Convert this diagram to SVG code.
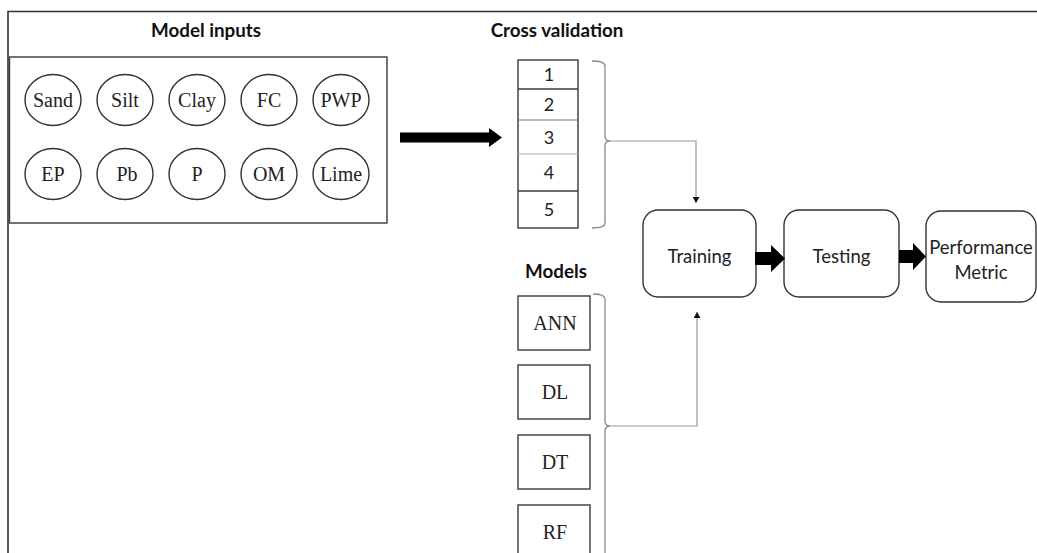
<svg xmlns="http://www.w3.org/2000/svg" width="1037" height="553" viewBox="0 0 1037 553">
  <defs>
    <style>
      .title { font-family: Lato, "Open Sans", sans-serif; font-weight: bold; font-size: 18.8px; fill: #111; text-anchor: middle; }
      .sans { font-family: Lato, "Open Sans", sans-serif; font-size: 18.5px; fill: #222; text-anchor: middle; }
      .num { font-family: Lato, "Open Sans", sans-serif; font-size: 18px; fill: #222; text-anchor: middle; }
      .serif { font-family: "Liberation Serif", "Times New Roman", serif; font-size: 20px; fill: #222; text-anchor: middle; }
      .frame { fill: none; stroke: #333; stroke-width: 1.6; }
      .box { fill: #fff; stroke: #3a3a3a; stroke-width: 1.4; }
      .node { fill: #fff; stroke: #333; stroke-width: 1.4; }
      .brace { fill: none; stroke: #8a8a8a; stroke-width: 1.3; }
      .link { fill: none; stroke: #999; stroke-width: 1.2; }
      .fat { fill: #000; }
    </style>
    <marker id="tip" viewBox="0 0 6 7" refX="6" refY="3.5" markerWidth="6" markerHeight="7" markerUnits="userSpaceOnUse" orient="auto">
      <path d="M0,0 L6,3.5 L0,7 Z" fill="#111"/>
    </marker>
  </defs>

  <rect width="1037" height="553" fill="#fff"/>

  <!-- outer frame: top and left edges -->
  <path class="frame" d="M8,553 L8,11.5 L1037,11.5"/>

  <!-- section titles -->
  <text class="title" x="206" y="37">Model inputs</text>
  <text class="title" x="557" y="37">Cross validation</text>
  <text class="title" x="556" y="278">Models</text>

  <!-- model inputs panel -->
  <g id="inputs">
    <rect class="box" x="9.5" y="57" width="377.5" height="166"/>
    <g id="in-sand"><ellipse class="node" cx="53" cy="100" rx="28" ry="25.5"/><text class="serif" x="53" y="107">Sand</text></g>
    <g id="in-silt"><ellipse class="node" cx="125" cy="100" rx="28" ry="25.5"/><text class="serif" x="125" y="107">Silt</text></g>
    <g id="in-clay"><ellipse class="node" cx="197" cy="100" rx="28" ry="25.5"/><text class="serif" x="197" y="107">Clay</text></g>
    <g id="in-fc"><ellipse class="node" cx="269" cy="100" rx="28" ry="25.5"/><text class="serif" x="269" y="107">FC</text></g>
    <g id="in-pwp"><ellipse class="node" cx="341" cy="100" rx="28" ry="25.5"/><text class="serif" x="341" y="107">PWP</text></g>
    <g id="in-ep"><ellipse class="node" cx="53" cy="174" rx="28" ry="25.5"/><text class="serif" x="53" y="181">EP</text></g>
    <g id="in-pb"><ellipse class="node" cx="125" cy="174" rx="28" ry="25.5"/><text class="serif" x="127" y="181">Pb</text></g>
    <g id="in-p"><ellipse class="node" cx="197" cy="174" rx="28" ry="25.5"/><text class="serif" x="197" y="181">P</text></g>
    <g id="in-om"><ellipse class="node" cx="269" cy="174" rx="28" ry="25.5"/><text class="serif" x="269" y="181">OM</text></g>
    <g id="in-lime"><ellipse class="node" cx="341" cy="174" rx="28" ry="25.5"/><text class="serif" x="341" y="181">Lime</text></g>
  </g>

  <!-- five folds -->
  <g id="folds">
    <rect class="box" x="518" y="60" width="60" height="168"/>
    <line x1="518" y1="89" x2="578" y2="89" stroke="#3a3a3a" stroke-width="1.3"/>
    <line x1="518" y1="120" x2="578" y2="120" stroke="#777" stroke-width="1.1"/>
    <line x1="518" y1="154" x2="578" y2="154" stroke="#aaa" stroke-width="1"/>
    <line x1="518" y1="191" x2="578" y2="191" stroke="#3a3a3a" stroke-width="1.3"/>
    <text class="num" x="549" y="81">1</text>
    <text class="num" x="549" y="111">2</text>
    <text class="num" x="549" y="144">3</text>
    <text class="num" x="549" y="179">4</text>
    <text class="num" x="549" y="216">5</text>
  </g>

  <!-- model list -->
  <g id="model-ann"><rect class="box" x="518" y="296" width="72" height="54"/><text class="serif" x="555" y="330">ANN</text></g>
  <g id="model-dl"><rect class="box" x="518" y="365" width="72" height="54"/><text class="serif" x="555" y="399">DL</text></g>
  <g id="model-dt"><rect class="box" x="518" y="435" width="72" height="54"/><text class="serif" x="555" y="469">DT</text></g>
  <g id="model-rf"><rect class="box" x="518" y="505" width="72" height="60"/><text class="serif" x="555" y="539">RF</text></g>

  <!-- pipeline stages -->
  <g id="training"><rect class="node" x="643" y="210" width="113" height="87" rx="15"/><text class="sans" x="699.5" y="263">Training</text></g>
  <g id="testing"><rect class="node" x="784" y="210" width="115" height="87" rx="15"/><text class="sans" x="841.5" y="263">Testing</text></g>
  <g id="performance"><rect class="node" x="926" y="211" width="110" height="91" rx="15"/><text class="sans" x="981" y="254" font-size="19.5">Performance</text><text class="sans" x="981" y="279" font-size="19.5">Metric</text></g>

  <!-- connectors -->
  <g id="connectors">
    <path class="brace" d="M592,61 Q605,61 605,66 L605,136 Q605,141 610,141 Q605,141 605,146 L605,223 Q605,228 592,228"/>
    <path class="link" d="M610,141 L696,141 L696,203" marker-end="url(#tip)"/>
    <path class="brace" d="M593,294 Q605,294 605,299 L605,421 Q605,426 610,426 Q605,426 605,431 L605,553"/>
    <path class="link" d="M610,426 L697,426 L697,312" marker-end="url(#tip)"/>
    <polygon class="fat" points="400,132.5 489,132.5 489,128 502,137.5 489,147 489,142.5 400,142.5"/>
    <polygon class="fat" points="755,252 771,252 771,245 785,258.5 771,272 771,265 755,265"/>
    <polygon class="fat" points="899,250 913,250 913,243 926,256.5 913,270 913,263 899,263"/>
  </g>
</svg>
